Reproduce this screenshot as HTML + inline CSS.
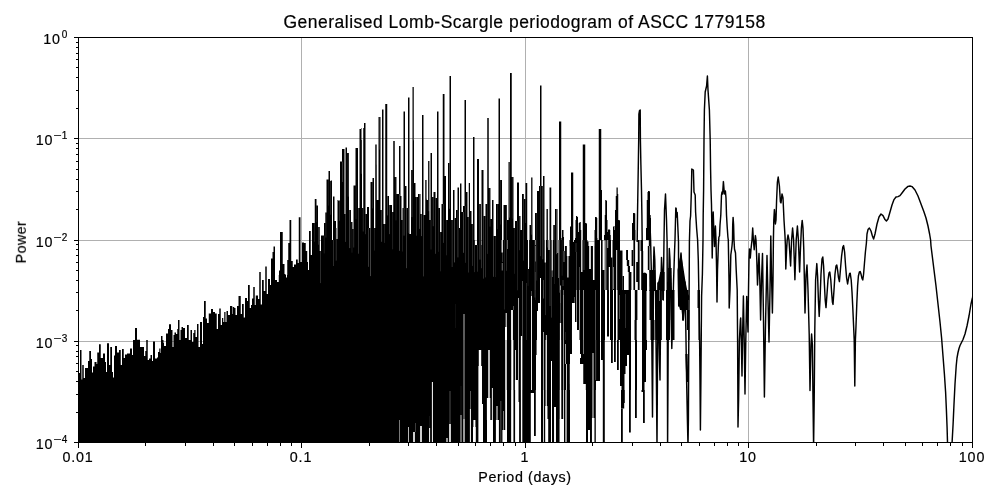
<!DOCTYPE html><html><head><meta charset="utf-8"><title>Periodogram</title><style>

html,body{margin:0;padding:0;background:#fff;}
body{width:1000px;height:500px;position:relative;overflow:hidden;font-family:"Liberation Sans",sans-serif;color:#000;}
.t{position:absolute;white-space:nowrap;line-height:1;will-change:transform;}
.title{font-size:17.5px;left:224px;top:13.5px;width:601px;text-align:center;letter-spacing:0.5px;}
.xl{font-size:14.3px;top:449.6px;text-align:center;width:60px;letter-spacing:0.85px;}
.yl{font-size:14.3px;text-align:right;width:60px;left:7.5px;letter-spacing:0.85px;}
.yl sup{font-size:10px;position:relative;top:-6.2px;vertical-align:baseline;line-height:0;letter-spacing:0.7px;margin-left:1px;}
.m{display:inline-block;transform:scaleX(1.4);margin:0 0.3px 0 0.5px;}
.t{-webkit-text-stroke:0.2px #000;}
.xlabel{font-size:14.3px;left:465px;width:120px;text-align:center;top:470px;letter-spacing:0.64px;}
.ylabel{font-size:14.3px;left:-38.6px;top:234.5px;width:120px;text-align:center;transform:rotate(-90deg);transform-origin:50% 50%;letter-spacing:0.4px;}

</style></head><body>
<svg width="1000" height="500" viewBox="0 0 1000 500" style="position:absolute;left:0;top:0">
<rect x="0" y="0" width="1000" height="500" fill="#fff"/>
<path d="M301.5 37.5V442.5M525.5 37.5V442.5M748.5 37.5V442.5M78.5 138.5H972.5M78.5 240.5H972.5M78.5 341.5H972.5" stroke="#b0b0b0" stroke-width="1" fill="none" shape-rendering="crispEdges"/>
<clipPath id="c"><rect x="78.5" y="37.5" width="894" height="405"/></clipPath><g clip-path="url(#c)"><path d="M78.00 442.5V390.0H79.00V373.0H80.00V350.0H81.50V379.5H82.25V365.0H83.75V378.0H85.00V368.0H88.00V361.0H89.25V351.0H91.00V359.0H92.00V372.5H93.00V366.5H94.50V362.0H96.50V364.0H97.25V352.5H99.00V344.2H100.75V358.0H103.00V353.5H105.00V362.0H106.00V372.0H107.00V343.2H109.00V365.0H110.25V347.0H112.00V372.0H113.00V377.5H114.00V355.5H115.00V346.0H117.00V352.5H119.00V350.0H120.75V365.0H122.00V349.0H123.75V358.0H125.00V354.5H127.00V353.5H130.00V348.5H132.00V355.0H133.00V340.0H135.00V328.0H137.00V339.7H140.00V347.0H144.00V356.0H145.25V351.0H146.25V340.0H147.75V360.0H149.00V358.5H150.50V355.0H152.00V361.0H153.00V341.5H155.00V358.5H157.00V357.5H158.00V352.0H159.25V348.5H160.50V353.0H161.00V336.0H162.50V340.0H163.50V343.0H164.00V346.0H166.00V333.5H168.00V329.0H169.00V324.3H171.00V330.0H172.50V347.0H173.50V335.0H174.50V332.5H176.00V334.0H177.25V329.0H178.00V320.0H179.50V340.0H180.50V330.0H181.50V327.0H183.00V328.0H185.00V338.0H187.00V325.0H188.75V340.0H190.50V330.0H192.00V342.0H193.25V333.0H194.25V330.0H195.50V337.0H197.00V324.0H198.50V347.0H200.00V322.0H202.00V344.0H203.00V317.0H204.00V301.0H205.75V318.5H207.00V323.0H208.75V313.5H211.00V309.0H213.00V312.0H215.00V313.5H216.75V329.0H218.00V314.0H219.25V308.5H220.75V325.0H222.00V318.0H223.25V322.0H224.25V312.0H225.50V322.0H226.50V311.0H228.00V315.0H230.00V306.0H232.25V314.0H232.75V307.0H234.25V308.0H235.50V315.0H237.00V306.0H238.50V296.0H240.75V314.0H242.00V304.0H243.75V317.5H245.00V298.0H247.00V301.0H248.00V285.0H249.75V308.0H251.00V305.0H252.00V298.5H253.25V287.0H254.75V305.0H255.75V295.5H258.00V299.0H259.25V272.0H260.75V304.5H262.00V280.0H263.75V291.0H265.25V266.5H266.75V294.0H268.00V279.0H270.00V285.0H271.00V258.5H272.50V252.0H273.50V246.5H275.00V280.0H277.00V282.0H278.75V275.0H279.00V270.5H280.00V232.0H282.75V264.0H284.50V274.0H285.50V275.0H286.00V277.5H287.00V275.0H287.25V260.0H288.25V243.0H289.50V220.0H291.25V261.0H292.75V267.0H294.00V264.5H296.00V259.5H297.75V263.0H298.75V217.2H300.50V262.0H302.00V242.5H304.00V243.0H305.75V251.0H307.25V262.0H308.00V270.0H309.00V231.0H310.75V255.0H312.00V223.0H314.75V199.0H316.50V205.5H318.00V227.0H319.75V251.0H321.00V235.5H324.00V223.0H325.25V212.5H326.50V179.5H328.50V171.0H330.00V181.0H330.75V180.5H332.00V240.0H333.00V196.5H334.50V221.0H336.00V228.0H336.50V239.0H337.50V200.0H338.00V200.5H340.00V161.6H342.00V149.0H344.50V214.0H345.50V147.6H347.00V153.0H349.00V210.0H351.00V222.0H352.50V229.0H353.50V185.6H355.50V148.0H358.00V208.0H359.50V129.0H361.00V140.0H361.50V128.0H362.00V208.0H363.25V128.0H364.00V123.0H365.50V214.0H367.00V207.0H369.00V228.0H370.50V182.0H372.50V178.0H374.00V228.0H375.25V144.4H376.75V200.0H378.50V117.0H380.50V210.0H382.00V109.6H383.50V224.0H385.25V104.0H387.25V196.0H389.00V205.0H392.00V212.0H393.25V141.0H394.75V177.0H396.50V194.0H399.00V146.0H400.50V196.0H401.50V220.0H402.50V208.0H403.50V111.6H405.00V186.0H406.50V208.0H408.00V97.6H409.50V234.0H411.00V170.0H412.50V87.0H414.00V183.0H415.50V197.0H418.00V194.0H420.50V214.0H422.00V115.0H423.50V215.0H425.25V180.0H426.75V200.0H428.00V161.0H429.50V220.0H430.50V153.0H432.00V197.0H433.50V192.0H435.50V198.0H437.00V111.6H438.50V208.0H440.00V232.0H441.50V204.0H442.75V94.0H444.50V176.0H446.00V220.0H448.00V163.0H449.50V76.0H451.00V220.0H453.00V190.0H454.50V218.0H456.00V210.0H457.50V187.4H459.00V228.0H460.00V183.6H461.50V212.0H463.00V206.0H464.50V100.0H466.00V192.0H467.50V217.0H468.75V183.0H470.00V211.0H471.50V224.0H473.00V137.0H474.50V240.0H475.00V245.0H477.00V159.0H479.00V204.0H481.00V245.0H481.50V170.0H483.50V216.0H485.50V204.0H487.25V118.0H488.75V188.0H490.50V219.0H492.00V200.0H493.50V236.0H496.00V204.0H498.50V98.4H500.00V180.0H502.00V240.0H503.50V205.0H507.00V220.0H508.50V162.0H510.00V73.0H511.75V177.0H513.50V228.0H515.00V221.0H517.00V182.4H519.00V216.0H520.50V230.0H522.00V194.0H524.00V199.0H525.50V183.0H527.25V240.0H529.50V225.0H531.00V177.4H532.50V240.0H535.00V213.0H537.00V191.0H539.00V186.0H540.00V85.6H541.50V186.0H543.00V176.0H544.50V240.0H546.50V209.0H548.00V240.0H549.50V187.4H551.25V240.0H553.25V225.0H555.00V209.0H557.50V240.0H559.00V121.6H561.25V240.0H561.50V238.0H562.00V230.0H563.50V237.0H564.00V240.0H570.00V226.5H571.00V172.5H573.25V240.0H575.00V238.0H575.50V220.0H576.00V216.0H577.25V217.0H578.00V232.0H578.75V223.0H579.50V222.0H580.75V230.0H581.25V240.0H582.75V144.5H585.25V223.0H586.25V223.5H587.00V240.0H594.50V230.0H595.00V217.0H596.75V218.0H597.25V238.0H597.50V240.0H598.75V129.0H600.00V442.5ZM600.00 240V129.0H601.25V190.0H602.00V240ZM604.00 240V235.0H604.75V215.0H605.25V200.0H606.50V201.0H607.00V220.0H607.50V232.0H608.00V230.0H608.50V229.0H609.50V230.0H610.25V235.0H610.75V240ZM613.00 240V227.0H613.50V226.0H614.50V230.0H615.00V210.0H615.75V196.0H616.50V187.5H617.75V194.0H618.25V220.0H619.75V221.0H620.00V240ZM632.00 240V223.0H633.00V213.0H634.75V213.5H635.25V230.0H635.50V240ZM646.00 240V228.0H646.75V200.0H647.50V192.0H648.00V191.0H649.50V191.5H650.00V215.0H650.50V218.0H651.00V240Z" fill="#000" stroke="none"/><g fill="#fff"><rect x="314.25" y="223.0" width="0.41" height="18.8" fill-opacity="0.28"/><rect x="316.58" y="205.5" width="0.39" height="16.7" fill-opacity="0.26"/><rect x="318.32" y="227.0" width="0.32" height="17.7" fill-opacity="0.54"/><rect x="320.37" y="251.0" width="0.38" height="32.1" fill-opacity="0.45"/><rect x="323.92" y="235.5" width="0.33" height="17.9" fill-opacity="0.35"/><rect x="325.75" y="212.5" width="0.42" height="25.0" fill-opacity="0.31"/><rect x="328.63" y="179.5" width="0.31" height="26.1" fill-opacity="0.27"/><rect x="330.64" y="181.0" width="0.42" height="33.7" fill-opacity="0.36"/><rect x="333.15" y="240.0" width="0.35" height="26.0" fill-opacity="0.49"/><rect x="335.90" y="228.0" width="0.36" height="32.6" fill-opacity="0.51"/><rect x="339.46" y="200.5" width="0.33" height="20.3" fill-opacity="0.51"/><rect x="342.04" y="161.6" width="0.41" height="20.4" fill-opacity="0.52"/><rect x="345.39" y="214.0" width="0.42" height="27.9" fill-opacity="0.46"/><rect x="347.90" y="153.0" width="0.43" height="43.6" fill-opacity="0.42"/><rect x="349.62" y="210.0" width="0.46" height="38.1" fill-opacity="0.60"/><rect x="351.79" y="222.0" width="0.39" height="30.7" fill-opacity="0.26"/><rect x="353.73" y="229.0" width="0.33" height="18.5" fill-opacity="0.52"/><rect x="355.82" y="185.6" width="0.39" height="33.5" fill-opacity="0.28"/><rect x="358.52" y="208.0" width="0.36" height="45.7" fill-opacity="0.55"/><rect x="360.95" y="140.0" width="0.33" height="33.8" fill-opacity="0.59"/><rect x="362.90" y="208.0" width="0.42" height="23.5" fill-opacity="0.42"/><rect x="365.03" y="214.0" width="0.41" height="20.2" fill-opacity="0.38"/><rect x="368.54" y="228.0" width="0.44" height="38.8" fill-opacity="0.47"/><rect x="370.24" y="228.0" width="0.46" height="48.1" fill-opacity="0.56"/><rect x="372.63" y="182.0" width="0.31" height="26.4" fill-opacity="0.47"/><rect x="374.36" y="228.0" width="0.31" height="22.6" fill-opacity="0.37"/><rect x="375.96" y="144.4" width="0.31" height="20.3" fill-opacity="0.38"/><rect x="379.31" y="117.0" width="0.37" height="32.6" fill-opacity="0.34"/><rect x="381.64" y="210.0" width="0.39" height="31.8" fill-opacity="0.60"/><rect x="384.21" y="224.0" width="0.35" height="18.9" fill-opacity="0.37"/><rect x="387.47" y="196.0" width="0.41" height="19.4" fill-opacity="0.58"/><rect x="389.36" y="205.0" width="0.50" height="29.1" fill-opacity="0.43"/><rect x="392.69" y="212.0" width="0.33" height="37.3" fill-opacity="0.38"/><rect x="395.83" y="177.0" width="0.34" height="43.4" fill-opacity="0.37"/><rect x="399.05" y="194.0" width="0.46" height="56.8" fill-opacity="0.53"/><rect x="402.13" y="220.0" width="0.31" height="31.5" fill-opacity="0.37"/><rect x="403.79" y="208.0" width="0.49" height="27.6" fill-opacity="0.49"/><rect x="406.28" y="208.0" width="0.37" height="60.2" fill-opacity="0.58"/><rect x="408.32" y="208.0" width="0.42" height="25.1" fill-opacity="0.32"/><rect x="411.72" y="170.0" width="0.46" height="47.1" fill-opacity="0.48"/><rect x="413.49" y="87.0" width="0.45" height="53.3" fill-opacity="0.52"/><rect x="416.05" y="197.0" width="0.46" height="38.7" fill-opacity="0.37"/><rect x="419.59" y="194.0" width="0.44" height="34.9" fill-opacity="0.58"/><rect x="421.53" y="214.0" width="0.46" height="22.1" fill-opacity="0.57"/><rect x="423.43" y="215.0" width="0.37" height="61.4" fill-opacity="0.48"/><rect x="426.12" y="180.0" width="0.43" height="18.7" fill-opacity="0.59"/><rect x="428.78" y="161.0" width="0.47" height="50.2" fill-opacity="0.56"/><rect x="430.80" y="220.0" width="0.42" height="29.5" fill-opacity="0.33"/><rect x="432.92" y="197.0" width="0.37" height="29.2" fill-opacity="0.57"/><rect x="435.43" y="198.0" width="0.48" height="55.8" fill-opacity="0.40"/><rect x="438.04" y="208.0" width="0.39" height="43.8" fill-opacity="0.26"/><rect x="440.00" y="232.0" width="0.39" height="39.3" fill-opacity="0.31"/><rect x="443.05" y="204.0" width="0.41" height="38.9" fill-opacity="0.43"/><rect x="446.22" y="220.0" width="0.36" height="35.3" fill-opacity="0.34"/><rect x="449.37" y="163.0" width="0.48" height="45.8" fill-opacity="0.52"/><rect x="451.85" y="220.0" width="0.44" height="47.0" fill-opacity="0.43"/><rect x="454.36" y="218.0" width="0.44" height="44.4" fill-opacity="0.58"/><rect x="457.71" y="210.0" width="0.49" height="47.4" fill-opacity="0.45"/><rect x="460.99" y="183.6" width="0.31" height="22.7" fill-opacity="0.40"/><rect x="463.07" y="212.0" width="0.48" height="40.8" fill-opacity="0.52"/><rect x="464.98" y="206.0" width="0.48" height="56.8" fill-opacity="0.30"/><rect x="468.52" y="217.0" width="0.40" height="55.5" fill-opacity="0.39"/><rect x="472.10" y="224.0" width="0.40" height="41.9" fill-opacity="0.40"/><rect x="474.37" y="240.0" width="0.30" height="32.1" fill-opacity="0.50"/><rect x="477.08" y="245.0" width="0.42" height="26.7" fill-opacity="0.37"/><rect x="479.71" y="204.0" width="0.49" height="55.6" fill-opacity="0.53"/><rect x="481.52" y="245.0" width="0.35" height="23.2" fill-opacity="0.52"/><rect x="483.37" y="216.0" width="0.35" height="62.6" fill-opacity="0.54"/><rect x="485.27" y="216.0" width="0.32" height="61.4" fill-opacity="0.50"/><rect x="486.99" y="204.0" width="0.49" height="49.9" fill-opacity="0.28"/><rect x="489.86" y="188.0" width="0.31" height="38.6" fill-opacity="0.55"/><rect x="493.18" y="236.0" width="0.49" height="40.8" fill-opacity="0.44"/><rect x="495.32" y="236.0" width="0.32" height="41.1" fill-opacity="0.33"/><rect x="497.24" y="204.0" width="0.36" height="25.1" fill-opacity="0.36"/><rect x="500.36" y="180.0" width="0.37" height="44.5" fill-opacity="0.31"/><rect x="502.00" y="240.0" width="0.41" height="22.0" fill-opacity="0.51"/><rect x="503.98" y="240.0" width="0.46" height="69.5" fill-opacity="0.29"/><rect x="506.44" y="205.0" width="0.40" height="65.8" fill-opacity="0.39"/><rect x="509.42" y="162.0" width="0.44" height="55.6" fill-opacity="0.54"/><rect x="512.29" y="177.0" width="0.33" height="41.6" fill-opacity="0.27"/><rect x="514.03" y="228.0" width="0.32" height="45.8" fill-opacity="0.31"/><rect x="517.31" y="221.0" width="0.35" height="69.3" fill-opacity="0.35"/><rect x="519.50" y="216.0" width="0.35" height="34.2" fill-opacity="0.41"/><rect x="523.02" y="194.0" width="0.49" height="66.6" fill-opacity="0.34"/><rect x="525.24" y="199.0" width="0.39" height="24.0" fill-opacity="0.38"/><rect x="527.85" y="240.0" width="0.35" height="45.9" fill-opacity="0.25"/><rect x="529.63" y="240.0" width="0.36" height="27.1" fill-opacity="0.26"/><rect x="531.69" y="177.4" width="0.43" height="57.3" fill-opacity="0.51"/><rect x="534.72" y="240.0" width="0.50" height="57.5" fill-opacity="0.36"/><rect x="536.62" y="213.0" width="0.47" height="67.5" fill-opacity="0.27"/><rect x="540.01" y="186.0" width="0.33" height="70.2" fill-opacity="0.53"/><rect x="542.65" y="186.0" width="0.47" height="73.3" fill-opacity="0.53"/><rect x="545.42" y="240.0" width="0.35" height="75.1" fill-opacity="0.49"/><rect x="547.08" y="209.0" width="0.47" height="38.5" fill-opacity="0.29"/><rect x="549.80" y="240.0" width="0.40" height="66.0" fill-opacity="0.49"/><rect x="551.41" y="240.0" width="0.41" height="77.6" fill-opacity="0.43"/><rect x="554.33" y="225.0" width="0.31" height="59.0" fill-opacity="0.34"/><rect x="556.46" y="209.0" width="0.50" height="45.2" fill-opacity="0.51"/><rect x="559.05" y="240.0" width="0.45" height="52.7" fill-opacity="0.49"/><rect x="561.88" y="240.0" width="0.35" height="35.7" fill-opacity="0.30"/></g><g fill="#fff"><rect x="501.60" y="240.00" width="1.20" height="12.50"/><rect x="501.80" y="263.00" width="0.80" height="7.50" fill-opacity="0.6"/><rect x="507.20" y="240.00" width="0.60" height="9.00" fill-opacity="0.7"/><rect x="528.00" y="240.00" width="1.00" height="29.00"/><rect x="535.10" y="240.00" width="0.80" height="5.00" fill-opacity="0.6"/><rect x="535.20" y="246.00" width="0.60" height="15.50" fill-opacity="0.6"/><rect x="544.70" y="240.00" width="1.20" height="22.50"/><rect x="548.30" y="240.00" width="1.40" height="10.00" fill-opacity="0.8"/><rect x="551.80" y="240.00" width="1.00" height="30.50"/><rect x="552.20" y="270.50" width="0.60" height="6.50" fill-opacity="0.5"/><rect x="557.30" y="240.00" width="1.40" height="13.00" fill-opacity="0.7"/><rect x="558.10" y="253.00" width="0.80" height="25.00" fill-opacity="0.5"/><rect x="563.95" y="240.00" width="5.50" height="6.00"/><rect x="566.85" y="246.00" width="2.70" height="10.00"/><rect x="567.35" y="256.00" width="1.10" height="21.50"/><rect x="564.00" y="246.00" width="1.00" height="5.00" fill-opacity="0.9"/><rect x="563.55" y="251.00" width="0.90" height="11.00" fill-opacity="0.5"/><rect x="573.00" y="240.00" width="1.00" height="2.00" fill-opacity="0.8"/><rect x="575.75" y="243.00" width="0.50" height="9.00" fill-opacity="0.4"/><rect x="576.25" y="252.00" width="0.50" height="38.00" fill-opacity="0.45"/><rect x="579.20" y="267.00" width="0.60" height="23.00" fill-opacity="0.45"/><rect x="581.20" y="240.00" width="1.20" height="32.00"/><rect x="583.60" y="240.00" width="0.80" height="30.00" fill-opacity="0.3"/><rect x="587.50" y="240.00" width="7.00" height="1.50"/><rect x="588.50" y="241.50" width="6.00" height="4.50"/><rect x="589.20" y="246.00" width="1.60" height="23.00"/><rect x="592.95" y="246.00" width="1.50" height="34.00"/><rect x="522.20" y="281.00" width="0.60" height="9.00" fill-opacity="0.5"/><rect x="526.25" y="283.00" width="0.50" height="7.00" fill-opacity="0.3"/><rect x="540.00" y="278.00" width="1.00" height="12.00"/><rect x="543.25" y="280.00" width="0.50" height="10.00" fill-opacity="0.5"/><rect x="560.10" y="285.50" width="0.80" height="4.50" fill-opacity="0.8"/><rect x="562.70" y="280.00" width="0.60" height="6.00" fill-opacity="0.4"/><rect x="534.95" y="272.00" width="0.50" height="18.00" fill-opacity="0.3"/><rect x="505.70" y="313.00" width="1.00" height="14.00"/><rect x="505.00" y="327.00" width="2.00" height="13.00"/><rect x="511.10" y="310.00" width="1.80" height="30.00"/><rect x="513.00" y="306.00" width="0.60" height="4.00" fill-opacity="0.5"/><rect x="518.10" y="298.00" width="0.80" height="42.00" fill-opacity="0.85"/><rect x="522.20" y="290.00" width="0.60" height="50.00" fill-opacity="0.45"/><rect x="526.25" y="290.00" width="0.50" height="50.00" fill-opacity="0.25"/><rect x="520.90" y="336.00" width="1.20" height="4.00"/><rect x="531.20" y="291.00" width="0.60" height="5.00" fill-opacity="0.5"/><rect x="531.00" y="296.00" width="1.00" height="44.00" fill-opacity="0.9"/><rect x="535.00" y="290.00" width="0.40" height="10.00" fill-opacity="0.25"/><rect x="540.00" y="290.00" width="1.00" height="13.00"/><rect x="538.00" y="303.00" width="3.00" height="8.00"/><rect x="537.00" y="311.00" width="4.00" height="29.00"/><rect x="543.20" y="290.00" width="0.60" height="8.50" fill-opacity="0.5"/><rect x="543.10" y="332.00" width="0.80" height="8.00" fill-opacity="0.8"/><rect x="545.90" y="335.00" width="0.80" height="5.00"/><rect x="560.10" y="290.00" width="0.80" height="13.00" fill-opacity="0.5"/><rect x="560.20" y="303.00" width="0.60" height="20.00" fill-opacity="0.5"/><rect x="559.90" y="323.00" width="1.20" height="17.00"/><rect x="563.10" y="290.00" width="0.80" height="5.00" fill-opacity="0.5"/><rect x="563.10" y="295.00" width="0.80" height="45.00" fill-opacity="0.7"/><rect x="565.30" y="332.00" width="0.40" height="8.00" fill-opacity="0.3"/><rect x="572.00" y="303.00" width="3.00" height="19.00"/><rect x="572.00" y="322.00" width="5.00" height="8.00"/><rect x="571.95" y="330.00" width="7.50" height="10.00"/><rect x="574.20" y="297.00" width="0.60" height="6.00" fill-opacity="0.5"/><rect x="576.10" y="290.00" width="0.80" height="32.00" fill-opacity="0.7"/><rect x="579.10" y="290.00" width="0.80" height="40.00" fill-opacity="0.8"/><rect x="583.00" y="290.00" width="1.00" height="50.00" fill-opacity="0.55"/><rect x="595.20" y="290.00" width="0.60" height="50.00" fill-opacity="0.5"/><rect x="505.25" y="340.00" width="1.50" height="50.00"/><rect x="511.25" y="340.00" width="2.10" height="50.00"/><rect x="515.10" y="350.00" width="0.80" height="30.00"/><rect x="514.90" y="380.00" width="3.60" height="10.00"/><rect x="518.10" y="340.00" width="0.80" height="40.00" fill-opacity="0.9"/><rect x="520.85" y="340.00" width="1.50" height="50.00"/><rect x="531.00" y="340.00" width="1.00" height="50.00" fill-opacity="0.9"/><rect x="536.60" y="340.00" width="4.40" height="15.00"/><rect x="536.00" y="355.00" width="5.00" height="35.00"/><rect x="543.10" y="340.00" width="0.80" height="50.00" fill-opacity="0.8"/><rect x="545.55" y="340.00" width="1.30" height="50.00"/><rect x="551.00" y="361.00" width="1.00" height="29.00"/><rect x="559.80" y="340.00" width="1.40" height="50.00"/><rect x="563.10" y="340.00" width="0.80" height="50.00" fill-opacity="0.75"/><rect x="565.10" y="344.00" width="0.80" height="20.00" fill-opacity="0.8"/><rect x="566.00" y="364.00" width="0.80" height="26.00"/><rect x="572.00" y="340.00" width="8.00" height="14.00"/><rect x="570.00" y="354.00" width="10.00" height="10.00"/><rect x="570.00" y="354.00" width="11.00" height="4.00"/><rect x="569.75" y="364.00" width="13.50" height="20.00"/><rect x="569.80" y="384.00" width="16.00" height="6.00"/><rect x="583.10" y="340.00" width="0.80" height="14.00" fill-opacity="0.6"/><rect x="592.50" y="353.00" width="1.00" height="37.00" fill-opacity="0.9"/><rect x="595.50" y="340.00" width="0.60" height="40.00" fill-opacity="0.5"/><rect x="596.00" y="381.00" width="4.00" height="9.00"/><rect x="500.60" y="401.00" width="0.60" height="42.00" fill-opacity="0.5"/><rect x="503.20" y="411.00" width="0.60" height="19.00" fill-opacity="0.8"/><rect x="502.45" y="430.00" width="4.50" height="13.00"/><rect x="505.25" y="390.00" width="1.70" height="53.00"/><rect x="511.15" y="390.00" width="2.30" height="53.00"/><rect x="515.10" y="390.00" width="3.40" height="12.00"/><rect x="515.10" y="402.00" width="4.00" height="41.00"/><rect x="520.90" y="390.00" width="1.40" height="53.00"/><rect x="530.80" y="393.00" width="3.20" height="50.00"/><rect x="535.80" y="390.00" width="5.20" height="53.00"/><rect x="533.00" y="436.00" width="4.00" height="7.00"/><rect x="543.10" y="390.00" width="0.80" height="53.00"/><rect x="545.60" y="390.00" width="1.20" height="16.00"/><rect x="545.15" y="406.00" width="2.30" height="13.00"/><rect x="545.20" y="419.00" width="3.00" height="24.00"/><rect x="551.00" y="390.00" width="1.00" height="53.00"/><rect x="554.05" y="407.00" width="1.90" height="36.00"/><rect x="559.70" y="390.00" width="1.60" height="53.00"/><rect x="559.80" y="419.00" width="4.20" height="24.00"/><rect x="563.10" y="390.00" width="0.80" height="29.00"/><rect x="565.40" y="390.00" width="1.20" height="53.00"/><rect x="570.00" y="390.00" width="16.00" height="53.00"/><rect x="588.00" y="430.00" width="2.00" height="13.00"/><rect x="592.50" y="390.00" width="1.00" height="28.00"/><rect x="591.95" y="418.00" width="2.50" height="25.00"/><rect x="595.80" y="390.00" width="4.20" height="53.00"/><rect x="399.10" y="420.00" width="0.60" height="26.00" fill-opacity="0.8"/><rect x="408.00" y="427.00" width="0.80" height="19.00" fill-opacity="0.9"/><rect x="413.20" y="432.00" width="1.60" height="14.00"/><rect x="415.10" y="423.00" width="0.60" height="9.00" fill-opacity="0.4"/><rect x="420.20" y="426.00" width="1.60" height="20.00"/><rect x="429.10" y="428.00" width="1.00" height="18.00"/><rect x="429.40" y="416.00" width="0.40" height="12.00" fill-opacity="0.2"/><rect x="431.90" y="382.00" width="1.00" height="64.00"/><rect x="446.40" y="438.00" width="1.20" height="8.00"/><rect x="449.70" y="391.00" width="0.60" height="33.00" fill-opacity="0.5"/><rect x="449.20" y="424.00" width="1.60" height="22.00"/><rect x="460.50" y="415.00" width="1.00" height="31.00" fill-opacity="0.8"/><rect x="460.80" y="386.00" width="0.40" height="29.00" fill-opacity="0.2"/><rect x="463.40" y="340.00" width="1.20" height="79.00" fill-opacity="0.55"/><rect x="463.40" y="419.00" width="1.20" height="27.00"/><rect x="470.10" y="391.00" width="0.60" height="18.00" fill-opacity="0.6"/><rect x="469.90" y="409.00" width="1.00" height="37.00"/><rect x="473.40" y="420.00" width="2.00" height="7.00"/><rect x="473.00" y="427.00" width="2.80" height="19.00"/><rect x="478.80" y="350.00" width="2.40" height="16.00"/><rect x="478.40" y="366.00" width="3.60" height="80.00"/><rect x="481.80" y="404.00" width="1.20" height="42.00"/><rect x="488.20" y="350.00" width="1.60" height="48.00" fill-opacity="0.9"/><rect x="486.90" y="398.00" width="3.40" height="22.00"/><rect x="487.00" y="420.00" width="6.00" height="26.00"/><rect x="491.90" y="388.00" width="1.00" height="32.00" fill-opacity="0.9"/><rect x="496.50" y="406.00" width="1.00" height="14.00"/><rect x="495.90" y="420.00" width="3.00" height="26.00"/><rect x="463.40" y="314.00" width="1.20" height="26.00" fill-opacity="0.6"/><rect x="455.40" y="304.00" width="0.40" height="24.00" fill-opacity="0.15"/></g><g fill="#000"><rect x="601.00" y="240.00" width="1.60" height="30.00"/><rect x="633.40" y="240.00" width="1.70" height="50.00"/><rect x="637.80" y="240.00" width="1.80" height="50.00"/><rect x="601.00" y="270.00" width="3.50" height="20.00"/><rect x="604.50" y="240.00" width="2.50" height="50.00" fill-opacity="0.55"/><rect x="606.50" y="240.00" width="4.50" height="50.00"/><rect x="611.00" y="257.50" width="1.50" height="32.50"/><rect x="612.50" y="240.00" width="7.50" height="50.00"/><rect x="620.00" y="250.50" width="2.50" height="39.50"/><rect x="622.50" y="276.00" width="1.50" height="14.00"/><rect x="626.10" y="250.00" width="1.90" height="10.00"/><rect x="626.80" y="260.00" width="2.40" height="6.00"/><rect x="627.80" y="266.00" width="2.20" height="6.00"/><rect x="628.60" y="272.00" width="2.80" height="18.00"/><rect x="631.60" y="250.00" width="1.60" height="16.00"/><rect x="636.20" y="262.00" width="1.90" height="20.00"/><rect x="640.50" y="240.00" width="2.50" height="11.00"/><rect x="641.20" y="251.00" width="2.00" height="39.00"/><rect x="643.50" y="273.00" width="2.60" height="17.00"/><rect x="648.80" y="240.00" width="1.30" height="6.00"/><rect x="647.80" y="246.00" width="1.70" height="24.00"/><rect x="601.00" y="290.00" width="4.00" height="50.00"/><rect x="607.00" y="290.00" width="2.00" height="46.50"/><rect x="610.00" y="290.00" width="3.00" height="50.00"/><rect x="614.00" y="290.00" width="2.00" height="50.00"/><rect x="617.50" y="290.00" width="13.50" height="50.00"/><rect x="634.80" y="290.00" width="2.60" height="30.00"/><rect x="634.50" y="320.00" width="2.20" height="20.00"/><rect x="642.00" y="290.00" width="4.50" height="50.00"/><rect x="649.50" y="290.00" width="4.50" height="30.00"/><rect x="650.50" y="320.00" width="4.00" height="20.00"/><rect x="655.50" y="290.00" width="6.30" height="50.00"/><rect x="662.20" y="290.00" width="1.80" height="10.00"/><rect x="666.00" y="290.00" width="4.00" height="50.00"/><rect x="670.80" y="290.00" width="3.70" height="30.00"/><rect x="671.50" y="320.00" width="3.00" height="20.00"/><rect x="678.00" y="290.00" width="6.00" height="9.00"/><rect x="678.00" y="299.00" width="1.50" height="7.00"/><rect x="681.00" y="299.00" width="2.00" height="11.00"/><rect x="682.20" y="310.00" width="1.80" height="10.50"/><rect x="686.00" y="290.00" width="2.50" height="20.00"/><rect x="686.80" y="310.00" width="2.70" height="20.00"/><rect x="688.00" y="330.00" width="1.50" height="10.00"/><rect x="697.50" y="290.00" width="2.50" height="18.00"/><rect x="698.50" y="308.00" width="1.50" height="32.00"/><rect x="601.00" y="340.00" width="2.00" height="20.00"/><rect x="602.80" y="340.00" width="2.00" height="50.00"/><rect x="611.00" y="340.00" width="1.80" height="23.00"/><rect x="614.00" y="340.00" width="1.80" height="22.00"/><rect x="617.00" y="340.00" width="1.80" height="30.00"/><rect x="620.00" y="340.00" width="11.00" height="15.00"/><rect x="620.00" y="355.00" width="7.00" height="11.00"/><rect x="620.00" y="366.00" width="5.50" height="8.00"/><rect x="620.00" y="374.00" width="4.50" height="12.00"/><rect x="621.50" y="386.00" width="3.00" height="4.00"/><rect x="629.00" y="355.00" width="2.00" height="35.00"/><rect x="635.00" y="340.00" width="2.00" height="50.00"/><rect x="642.00" y="340.00" width="5.00" height="10.00"/><rect x="642.00" y="350.00" width="4.00" height="32.00"/><rect x="642.00" y="382.00" width="2.50" height="8.00"/><rect x="602.80" y="390.00" width="2.00" height="53.00"/><rect x="621.00" y="390.00" width="3.80" height="13.00"/><rect x="621.00" y="403.00" width="3.20" height="5.50"/><rect x="621.00" y="408.50" width="1.80" height="34.50"/><rect x="629.00" y="390.00" width="1.80" height="42.50"/><rect x="635.00" y="390.00" width="1.80" height="28.00"/><rect x="641.50" y="390.00" width="1.70" height="2.00"/><rect x="643.00" y="390.00" width="1.80" height="33.00"/><path d="M649.2 270L655.4 270L655.4 291L649.4 291Z"/><path d="M660.2 272L664.6 272L664.6 291L657.6 291L657.6 283L658.4 281Z"/><path d="M668.2 268L671.6 268L672 291L668.2 291Z"/><path d="M677.5 270L679 262L681 253L682.5 262L684.5 275L685.6 282L688 294L689.2 296L689.2 300L686 300L684 320L682.5 320L681.5 310L680 310L679 306L678 300Z"/><path d="M643 273L645 272.5L647 274L647 291L642.5 291Z"/><path d="M685.4 354L687.6 354L688.3 382L686.3 382Z"/></g><g fill="#fff"><rect x="607.20" y="240.00" width="1.00" height="8.00" fill-opacity="0.7"/><rect x="608.80" y="267.00" width="1.20" height="23.00"/><rect x="613.00" y="267.00" width="1.00" height="22.00" fill-opacity="0.5"/><rect x="616.00" y="250.00" width="1.20" height="40.00" fill-opacity="0.75"/><rect x="619.10" y="295.00" width="0.80" height="24.00" fill-opacity="0.4"/><rect x="625.20" y="294.00" width="0.60" height="34.00" fill-opacity="0.3"/><rect x="659.10" y="290.00" width="0.80" height="11.00" fill-opacity="0.5"/><rect x="657.20" y="307.00" width="0.60" height="21.00" fill-opacity="0.3"/></g><g fill="none" stroke="#000" stroke-width="1.45" stroke-linejoin="round" stroke-linecap="butt"><path d="M649.6 215.0L650.6 240.0L651.3 270.0L651.8 340.0L652.5 417.0L653.0 340.0L653.4 270.0L654.0 247.0L654.8 260.0L655.6 300.0L656.4 380.0L657.0 446.0L657.4 380.0L657.7 320.0L658.0 283.0L658.6 320.0L659.4 360.0L660.0 380.0L660.5 330.0L661.0 280.0L661.5 257.5L662.2 270.0L662.8 290.0L663.3 300.0L663.6 270.0L664.0 240.0L664.5 210.0L665.5 194.0L666.5 220.0L667.1 242.0L667.3 300.0L667.6 446.0L668.0 380.0L668.4 300.0L669.3 248.5L670.0 260.0L670.8 300.0L671.8 348.5L672.6 320.0L673.6 280.0L674.6 250.0L675.0 240.0L675.8 208.0L676.2 208.5L676.5 217.0L677.2 212.5L678.5 242.0L678.7 306.0L679.4 280.0L680.2 262.0L681.0 253.0L681.8 264.0L682.5 290.0L683.0 320.0L683.8 295.0L685.0 282.0L686.0 340.0L686.6 380.0L687.4 420.0L688.0 446.0L688.4 420.0L688.8 340.0L689.2 280.0L689.4 242.0L690.0 221.0L690.6 216.0L691.4 190.0L691.8 169.0L693.4 170.0L694.0 192.0L695.2 195.0L695.6 212.0L696.6 228.0L697.6 240.0L698.3 260.0L699.0 300.0"/><path d="M699.0 300.0L699.6 340.0L700.0 380.0L700.4 430.0L700.9 380.0L701.3 330.0L701.6 296.0L702.4 274.0L703.0 240.0L703.2 215.0L703.6 190.0L704.0 140.0L704.4 110.0L705.2 92.0L706.6 86.0L707.4 76.0L708.0 90.0L709.4 110.0L710.2 140.0L710.6 170.0L711.0 190.0L711.5 205.0L711.8 225.0L712.2 258.0L712.8 225.0L713.2 212.0L713.8 230.0L714.5 246.5L715.0 232.0L715.4 226.0L716.0 240.0L716.6 270.0L717.0 302.0L717.5 270.0L718.4 245.0L718.9 237.0L719.5 236.0L720.0 225.0L720.8 215.0L721.5 195.0L722.0 192.0L722.6 194.0L723.4 181.6L724.4 194.0L725.4 191.0L726.0 198.0L726.5 215.0L727.2 227.0L727.9 237.0L728.3 240.0L729.0 280.0L729.2 308.0L730.0 290.0L730.5 270.0L730.8 255.0L731.5 250.0L732.0 246.0L732.5 240.0L732.7 225.0L733.1 217.4L733.6 225.0L734.0 240.0L734.5 249.0L735.5 253.0L736.2 270.0L737.2 290.0L737.6 340.0L738.0 427.0L738.6 400.0L739.4 340.0L740.4 320.0L740.7 318.0L741.4 345.0L742.0 376.0L742.7 330.0L743.4 296.0L744.2 340.0L745.0 394.0L745.8 340.0L746.7 296.4L747.4 315.0L748.0 332.0L748.5 290.0L749.0 259.0L749.5 249.0L750.3 258.0L751.0 249.0L752.0 240.0L752.7 228.0L753.4 240.0L754.2 249.8L754.8 242.0L755.4 235.6L756.0 240.0L756.8 260.0L757.5 285.0L758.2 270.0L759.0 253.5L759.8 280.0L760.6 320.0L761.5 280.0L762.5 253.5L763.5 320.0L764.4 397.0L765.4 330.0L767.0 255.5L768.0 300.0L769.0 342.0L770.0 290.0L770.8 236.0L771.6 280.0L772.4 313.0L773.0 280.0L773.4 240.0L773.8 220.0L774.4 209.6L775.4 224.0L776.0 220.0L776.6 200.0L777.4 182.0L778.2 177.0L779.4 186.0L780.4 202.0L781.0 203.0L782.0 194.0L783.0 198.0L784.0 220.0L785.0 236.0L785.4 245.0L785.8 269.0L786.6 250.0L787.2 240.0L788.0 235.0L789.0 240.0L790.6 266.0L791.6 240.0L792.6 228.0L793.6 240.0L794.9 279.8L796.2 240.0L797.4 226.0L798.4 240.0L799.6 272.0L800.4 250.0L801.4 228.0L802.2 220.4L803.0 228.0L803.8 250.0L805.0 313.0L806.0 275.0L807.0 265.0L808.0 290.0L809.2 334.0L810.0 390.5L811.0 345.0L811.6 334.0L812.4 345.0L813.0 400.0L813.6 446.0L814.2 400.0L814.8 330.0L815.6 280.0L816.8 263.6L817.6 276.0L818.4 300.0L819.2 316.4L820.0 300.0L821.0 274.0L822.0 259.0L822.8 257.0L823.6 266.0L824.4 284.0L825.2 300.0L826.0 307.6L827.0 294.0L828.0 280.0L829.0 273.0L829.8 272.0L830.8 280.0L831.6 292.0L832.4 302.0L833.0 304.4L834.0 290.0L835.0 274.0L836.0 266.0L836.8 265.0L837.6 270.0L838.4 277.0L839.4 281.6L840.4 270.0L841.6 256.0L842.8 247.0L843.6 245.6L844.6 252.0L845.6 266.0L846.6 278.0L847.6 284.0L848.6 278.0L849.6 273.6L850.2 273.2L851.2 280.0L852.0 292.0L852.8 308.0L853.6 326.0L854.2 340.0L854.8 386.0L855.4 340.0L856.0 326.0L856.8 304.0L857.6 286.0L858.4 276.0L859.4 272.0L860.2 271.6L861.0 274.0L862.0 278.4L862.8 280.0L863.6 274.0L864.4 264.0L865.4 252.0L866.4 243.0L867.0 234.0L868.0 229.6L869.4 228.0L871.0 231.0L872.4 236.0L873.6 239.0L875.0 234.0L877.0 224.0L879.0 217.0L881.0 214.0L883.0 215.6L885.0 219.6L886.4 221.0L888.0 219.0L890.0 212.0L892.0 205.0L894.0 199.6L896.0 197.0L898.0 196.6L900.0 195.6L902.0 193.0L905.0 189.0L908.0 186.4L910.0 186.0L912.0 186.6L915.0 190.0L918.0 196.0L921.0 204.0L924.0 212.0L926.0 218.0L928.0 226.0L929.6 234.0L930.6 240.0L931.0 246.0L932.0 254.0L934.0 270.0L936.0 286.0L938.0 304.0L940.0 322.0L941.6 338.0L943.0 356.0L944.4 374.0L945.6 392.0L946.4 410.0L947.1 428.0L947.5 442.0L947.8 452.0L951.9 452.0L952.1 442.0L953.1 424.0L954.0 404.0L955.0 384.0L956.2 366.0L957.0 358.0L958.0 352.5L959.0 348.5L960.0 345.5L961.5 342.5L963.0 339.5L965.0 334.0L967.0 326.0L969.0 316.0L971.0 304.0L972.4 298.0L974.0 290.0"/><path d="M637.2 242.0L637.5 215.0L637.9 190.0L638.4 160.0L638.7 140.0L638.9 114.0L639.5 110.5L640.2 110.0L640.4 140.0L640.9 165.0L641.5 190.0L641.9 215.0L642.2 242.0"/></g></g>
<path d="M78.5 442.5v5M301.5 442.5v5M525.5 442.5v5M748.5 442.5v5M972.5 442.5v5M78.5 37.5h-5M78.5 138.5h-5M78.5 240.5h-5M78.5 341.5h-5M78.5 442.5h-5" stroke="#000" stroke-width="1" fill="none" shape-rendering="crispEdges"/>
<path d="M145.5 442.5v3M185.5 442.5v3M213.5 442.5v3M234.5 442.5v3M252.5 442.5v3M267.5 442.5v3M280.5 442.5v3M291.5 442.5v3M369.5 442.5v3M408.5 442.5v3M436.5 442.5v3M458.5 442.5v3M475.5 442.5v3M490.5 442.5v3M503.5 442.5v3M515.5 442.5v3M592.5 442.5v3M632.5 442.5v3M660.5 442.5v3M681.5 442.5v3M699.5 442.5v3M714.5 442.5v3M727.5 442.5v3M738.5 442.5v3M816.5 442.5v3M855.5 442.5v3M883.5 442.5v3M905.5 442.5v3M922.5 442.5v3M937.5 442.5v3M950.5 442.5v3M962.5 442.5v3M78.5 412.5h-3M78.5 394.5h-3M78.5 381.5h-3M78.5 371.5h-3M78.5 363.5h-3M78.5 356.5h-3M78.5 351.5h-3M78.5 345.5h-3M78.5 310.5h-3M78.5 292.5h-3M78.5 280.5h-3M78.5 270.5h-3M78.5 262.5h-3M78.5 255.5h-3M78.5 249.5h-3M78.5 244.5h-3M78.5 209.5h-3M78.5 191.5h-3M78.5 179.5h-3M78.5 169.5h-3M78.5 161.5h-3M78.5 154.5h-3M78.5 148.5h-3M78.5 143.5h-3M78.5 108.5h-3M78.5 90.5h-3M78.5 77.5h-3M78.5 67.5h-3M78.5 59.5h-3M78.5 53.5h-3M78.5 47.5h-3M78.5 42.5h-3" stroke="#000" stroke-width="1" fill="none" shape-rendering="crispEdges"/>
<rect x="78.5" y="37.5" width="894.0" height="405.0" fill="none" stroke="#000" stroke-width="1" shape-rendering="crispEdges"/>
</svg>
<div class="t title">Generalised Lomb-Scargle periodogram of ASCC 1779158</div>
<div class="t xl" style="left:48.0px">0.01</div>
<div class="t xl" style="left:271.0px">0.1</div>
<div class="t xl" style="left:495.0px">1</div>
<div class="t xl" style="left:718.0px">10</div>
<div class="t xl" style="left:942.0px">100</div>
<div class="t yl" style="top:32.0px">10<sup>0</sup></div>
<div class="t yl" style="top:133.0px">10<sup><span class="m">−</span>1</sup></div>
<div class="t yl" style="top:235.0px">10<sup><span class="m">−</span>2</sup></div>
<div class="t yl" style="top:336.0px">10<sup><span class="m">−</span>3</sup></div>
<div class="t yl" style="top:437.0px">10<sup><span class="m">−</span>4</sup></div>
<div class="t xlabel">Period (days)</div>
<div class="t ylabel">Power</div>
</body></html>
